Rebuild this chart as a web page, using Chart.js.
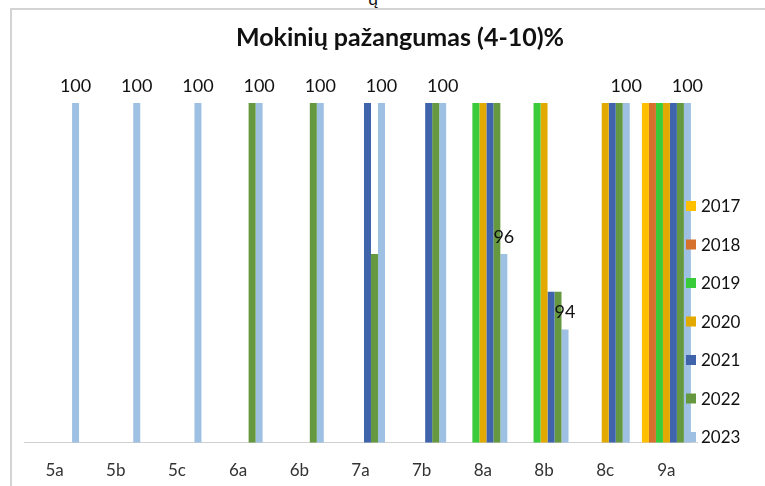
<!DOCTYPE html>
<html>
<head>
<meta charset="utf-8">
<script src="https://cdn.jsdelivr.net/npm/chart.js@4.4.1/dist/chart.umd.min.js"></script>
<style>
  html, body { margin: 0; padding: 0; background: #fff; }
  #wrap { position: relative; width: 765px; height: 486px; overflow: hidden; }
  #frame { position: absolute; left: 10px; top: 8px; right: -5px; bottom: -5px;
           border-top: 2px solid #d4d4d4; border-left: 2px solid #d4d4d4; }
  #frag { position: absolute; left: 368px; top: -13px; font: 18px Lato, sans-serif; color: #111; }
  canvas { position: absolute; left: 0; top: 0; }
</style>
</head>
<body>
<div id="wrap">
  <div id="frame"></div>
  <div id="frag">ų</div>
  <canvas id="chart" width="765" height="486"></canvas>
</div>
<script>
// Duomenys
const classes = ['5a', '5b', '5c', '6a', '6b', '7a', '7b', '8a', '8b', '8c', '9a'];
const years = ['2017', '2018', '2019', '2020', '2021', '2022', '2023'];
const y2017 = [null, null, null, null, null, null, null, null, null, null, 100];
const y2018 = [null, null, null, null, null, null, null, null, null, null, 100];
const y2019 = [null, null, null, null, null, null, null, 100, 100, null, 100];
const y2020 = [null, null, null, null, null, null, null, 100, 100, 100, 100];
const y2021 = [null, null, null, null, null, 100, 100, 100, 95, 100, 100];
const y2022 = [null, null, null, 100, 100, 96, 100, 100, 95, 100, 100];
const y2023 = [100, 100, 100, 100, 100, 100, 100, 96, 94, 100, 100];
const colors = ['#FFC000', '#D5702D', '#3ACB3A', '#E2A900', '#4064AC', '#66993F', '#9DC0E3'];
const chartTitle = 'Mokinių pažangumas (4-10)%';

const series = [y2017, y2018, y2019, y2020, y2021, y2022, y2023];
const FONT = 'Lato, "Open Sans", sans-serif';

// pavadinimas centruojamas pagal visą rėmelį
const titlePlugin = {
    id: 'frameTitle',
    afterDraw(chart) {
        const ctx = chart.ctx;
        ctx.save();
        ctx.font = 'bold 25px ' + FONT;
        ctx.fillStyle = '#111';
        ctx.textAlign = 'center';
        ctx.textBaseline = 'middle';
        ctx.fillText(chartTitle, 400, 38);
        ctx.restore();
    }
};

// reikšmės tik paskutiniams metams
const labelsPlugin = {
    id: 'lastLabels',
    afterDatasetsDraw(chart) {
        const ctx = chart.ctx;
        const last = chart.data.datasets.length - 1;
        const meta = chart.getDatasetMeta(last);
        ctx.save();
        ctx.font = '18px ' + FONT;
        ctx.fillStyle = '#111';
        ctx.textAlign = 'center';
        ctx.textBaseline = 'middle';
        meta.data.forEach((bar, i) => {
            const v = chart.data.datasets[last].data[i];
            if (v == null) return;
            ctx.fillText(v, bar.x, bar.y - 17);
        });
        ctx.restore();
    }
};

// legenda dešinėje, ant stulpelių
const legendPlugin = {
    id: 'sideLegend',
    afterDraw(chart) {
        const ctx = chart.ctx;
        ctx.save();
        ctx.font = '17px ' + FONT;
        ctx.textBaseline = 'middle';
        chart.data.datasets.forEach((ds, i) => {
            const y = 206 + i * 38.5;
            ctx.fillStyle = ds.backgroundColor;
            ctx.fillRect(686, y - 5, 10, 10);
            ctx.fillStyle = '#111';
            ctx.fillText(ds.label, 701, y + 1);
        });
        ctx.restore();
    }
};

const ctx = document.getElementById('chart').getContext('2d');
new Chart(ctx, {
    type: 'bar',
    data: {
        labels: classes,
        datasets: years.map((yr, i) => ({
            label: yr,
            data: series[i],
            backgroundColor: colors[i],
            borderWidth: 0,
            categoryPercentage: 0.8,
            barPercentage: 1.0
        }))
    },
    options: {
        responsive: false,
        animation: false,
        layout: { padding: { left: 24, right: 68, top: 103, bottom: -13 } },
        plugins: {
            legend: { display: false },
            tooltip: { enabled: false },
            title: { display: false }
        },
        scales: {
            x: {
                grid: { display: false, drawTicks: false },
                border: { display: true, color: '#cfcfcf', width: 1 },
                ticks: { color: '#333', font: { family: FONT, size: 17 }, padding: 18 }
            },
            y: {
                display: false,
                min: 91,
                max: 100
            }
        }
    },
    plugins: [labelsPlugin, legendPlugin, titlePlugin]
});
</script>
</body>
</html>
